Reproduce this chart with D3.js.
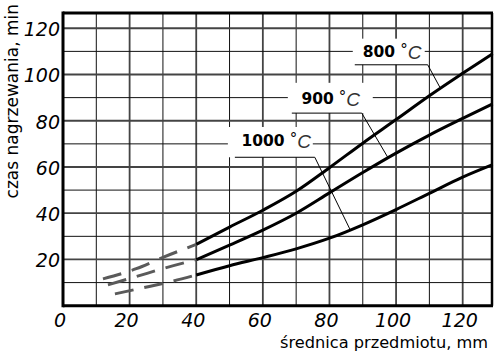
<!DOCTYPE html>
<html>
<head>
<meta charset="utf-8">
<script src="https://cdn.jsdelivr.net/npm/d3@7"></script>
<style>
  body { margin: 0; background: #fff; }
  svg { display: block; }
</style>
</head>
<body>
<div id="chart"></div>
<script>
// heating time curves, solid part
const diam = [40, 50, 60, 70, 80, 90, 100, 110, 120, 129];
const t800 = [26.5, 34, 41.3, 49.5, 59.7, 70.3, 80.5, 90.8, 100.5, 109];
const t900 = [19.9, 26.2, 32.7, 40, 48.8, 57.6, 66, 73.8, 81, 87.3];
const t1000 = [13.3, 17.3, 20.8, 24.6, 29.2, 35, 41.6, 48.6, 55.6, 61];

// dashed extrapolation below 40 mm
const dash800x = [12, 22, 30, 40];
const dash800y = [11.6, 16, 20.9, 26.5];
const dash900x = [13.5, 22, 30.6, 40];
const dash900y = [9, 12.6, 16.3, 19.9];
const dash1000x = [15.6, 23.6, 32.3, 40];
const dash1000y = [5.1, 7.6, 10.4, 13.3];

const xTicks = [0, 20, 40, 60, 80, 100, 120];
const yTicks = [20, 40, 60, 80, 100, 120];
const labels = ['800', '900', '1000'];

const W = 495, H = 354;
const margin = { top: 13, right: 2, bottom: 48.3, left: 63 };

const svg = d3.select('#chart').append('svg')
    .attr('width', W)
    .attr('height', H);

const x = d3.scaleLinear().domain([0, 129.1]).range([margin.left, W - margin.right]);
const y = d3.scaleLinear().domain([0, 126.6]).range([H - margin.bottom, margin.top]);

// grid
const grid = svg.append('g');
d3.range(10, 130, 10).forEach(v => {
    const major = v % 20 === 0;
    grid.append('line')
        .attr('x1', x(v)).attr('x2', x(v))
        .attr('y1', y(0)).attr('y2', y(126.6))
        .attr('stroke', major ? '#444' : '#111')
        .attr('stroke-width', major ? 1.8 : 1);
});
d3.range(10, 127, 10).forEach(v => {
    const major = v % 20 === 0;
    grid.append('line')
        .attr('x1', x(0)).attr('x2', x(129.1))
        .attr('y1', y(v)).attr('y2', y(v))
        .attr('stroke', major ? '#444' : '#111')
        .attr('stroke-width', major ? 1.8 : 1);
});

// white boxes behind labels (data units)
const boxes = [
    { x0: 87, x1: 108.6, y0: 104.2, y1: 115.5 },
    { x0: 67.5, x1: 93, y0: 83.3, y1: 96.4 },
    { x0: 49.5, x1: 75, y0: 64.2, y1: 77.3 }
];
svg.append('g').selectAll('rect').data(boxes).join('rect')
    .attr('x', d => x(d.x0))
    .attr('y', d => y(d.y1))
    .attr('width', d => x(d.x1) - x(d.x0))
    .attr('height', d => y(d.y0) - y(d.y1))
    .attr('fill', '#fff');

// leaders
const leaders = [
    [[87.6, 104.2], [109.5, 104.2], [113.1, 94.6]],
    [[68.7, 83.3], [89.7, 83.3], [97.5, 64.2]],
    [[51.6, 64.2], [75.6, 64.2], [86.1, 33.2]]
];
const leaderLine = d3.line().x(d => x(d[0])).y(d => y(d[1]));
svg.append('g').selectAll('path').data(leaders).join('path')
    .attr('d', leaderLine)
    .attr('fill', 'none')
    .attr('stroke', '#000')
    .attr('stroke-width', 1);

// frame
const frame = svg.append('g').attr('stroke', '#000').attr('fill', 'none');
frame.append('line').attr('x1', x(0)).attr('x2', x(129.1)).attr('y1', y(0)).attr('y2', y(0)).attr('stroke-width', 3);
frame.append('line').attr('x1', x(0)).attr('x2', x(0)).attr('y1', y(0) + 1.5).attr('y2', y(126.6) - 1.5).attr('stroke-width', 3);
frame.append('line').attr('x1', x(0)).attr('x2', x(129.1)).attr('y1', y(126.6)).attr('y2', y(126.6)).attr('stroke-width', 3);
frame.append('line').attr('x1', x(129.1) - 1).attr('x2', x(129.1) - 1).attr('y1', y(0)).attr('y2', y(126.6)).attr('stroke-width', 2.5);

// curves
const line = d3.line().x(d => x(d[0])).y(d => y(d[1])).curve(d3.curveMonotoneX);
const solid = [t800, t900, t1000].map(t => diam.map((d, i) => [d, t[i]]));
svg.append('g').selectAll('path').data(solid).join('path')
    .attr('d', line)
    .attr('fill', 'none')
    .attr('stroke', '#000')
    .attr('stroke-width', 3);

const dashed = [
    dash800x.map((d, i) => [d, dash800y[i]]),
    dash900x.map((d, i) => [d, dash900y[i]]),
    dash1000x.map((d, i) => [d, dash1000y[i]])
];
svg.append('g').selectAll('path').data(dashed).join('path')
    .attr('d', line)
    .attr('fill', 'none')
    .attr('stroke', '#5a5a5a')
    .attr('stroke-width', 3)
    .attr('stroke-dasharray', '19,11');

// curve labels
const labelPos = [[90, 107.6], [71.6, 87.3], [53.6, 69.2]];
labelPos.forEach((p, i) => {
    const t = svg.append('text')
        .attr('x', x(p[0]))
        .attr('y', y(p[1]))
        .attr('font-family', 'DejaVu Sans')
        .attr('font-size', 15.5)
        .attr('fill', '#000');
    t.append('tspan').attr('font-weight', 'bold').text(labels[i]);
    t.append('tspan').attr('dx', 5).attr('dy', -2).attr('font-size', 15).text('°');
    t.append('tspan').attr('dy', 4).attr('font-family', 'Liberation Sans').attr('font-style', 'italic')
        .attr('font-size', 19).attr('fill', '#333').text('C');
});

// tick labels
svg.append('g').selectAll('text').data(xTicks).join('text')
    .attr('x', d => x(d) - 3)
    .attr('y', y(0) + 21)
    .attr('text-anchor', 'middle')
    .attr('font-family', 'DejaVu Sans')
    .attr('font-style', 'italic')
    .attr('font-size', 19)
    .text(d => d);

svg.append('g').selectAll('text').data(yTicks).join('text')
    .attr('x', x(0) - 3)
    .attr('y', d => y(d) + 8)
    .attr('text-anchor', 'end')
    .attr('font-family', 'DejaVu Sans')
    .attr('font-style', 'italic')
    .attr('font-size', 19)
    .text(d => d);

// axis titles
svg.append('text')
    .attr('x', 488)
    .attr('y', 348)
    .attr('text-anchor', 'end')
    .attr('font-family', 'DejaVu Sans')
    .attr('font-size', 16.2)
    .text('średnica przedmiotu, mm');

svg.append('text')
    .attr('transform', 'translate(18,4) rotate(-90)')
    .attr('text-anchor', 'end')
    .attr('font-family', 'DejaVu Sans')
    .attr('font-size', 17)
    .text('czas nagrzewania, min');
</script>
</body>
</html>
